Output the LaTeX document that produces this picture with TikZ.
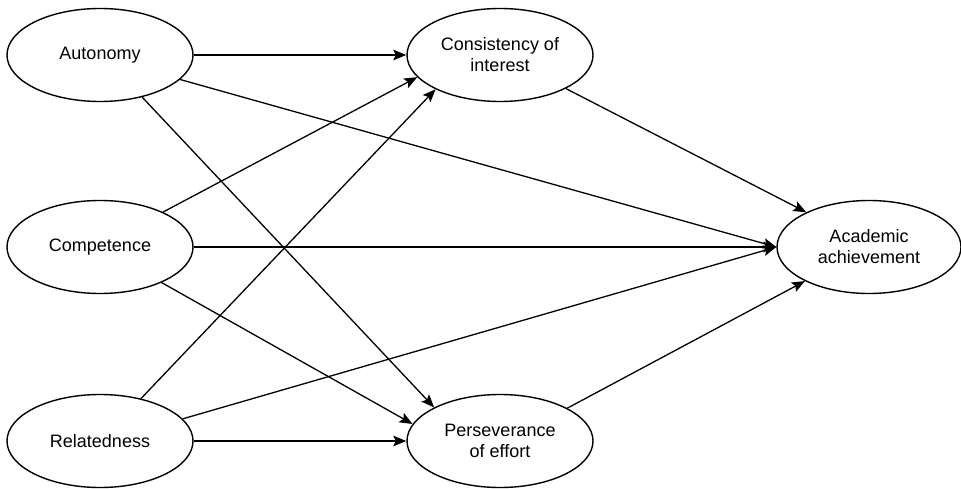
\documentclass[tikz,border=0pt]{standalone}
\usepackage{fontspec}
\setmainfont{Liberation Sans}
\usetikzlibrary{shapes.geometric,arrows.meta}
\begin{document}
\begin{tikzpicture}[x=1pt,y=-1pt,
  var/.style={ellipse,draw,line width=1.4pt,minimum width=186pt,minimum height=93pt,inner sep=0pt,align=center,font=\fontsize{18}{21}\selectfont},
  link/.style={line width=1.3pt,-{Stealth[length=13pt,width=10.5pt,inset=2.5pt]}}]
\useasboundingbox (0,0) rectangle (961,489);
\node[var] (aut) at (100,55) {Autonomy};
\node[var] (comp) at (100,247) {Competence};
\node[var] (rel) at (100,441) {Relatedness};
\node[var] (cons) at (500,55) {Consistency of\\interest};
\node[var] (pers) at (500,441) {Perseverance\\of effort};
\node[var,minimum width=184pt] (acad) at (869,247) {Academic\\achievement};
\draw[link] (aut.east) -- (cons.west);
\draw[link] (aut.-17) -- (acad.west);
\draw[link] (aut.-45.7) -- (pers.153.1);
\draw[link] (comp.29.1) -- (cons.195.5);
\draw[link] (comp.east) -- (acad.west);
\draw[link] (comp.-30.1) -- (pers.169.6);
\draw[link] (rel.46.4) -- (cons.208.3);
\draw[link] (rel.15.7) -- (acad.west);
\draw[link] (rel.east) -- (pers.west);
\draw[link] (cons.-27.3) -- (acad.151.3);
\draw[link] (pers.26.6) -- (acad.208.7);
\end{tikzpicture}
\end{document}
